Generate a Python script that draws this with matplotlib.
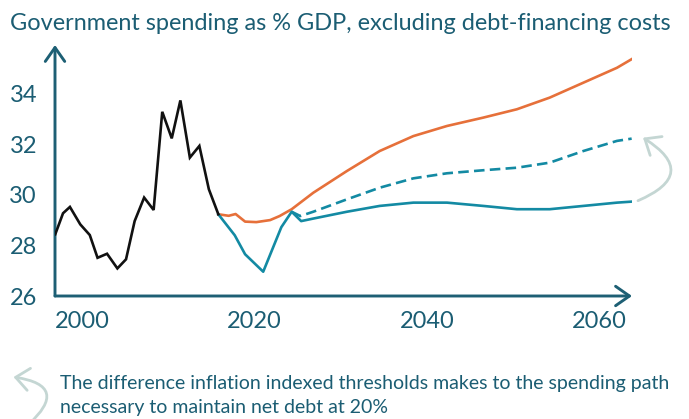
import matplotlib
matplotlib.use("Agg")
import matplotlib.pyplot as plt
from matplotlib.patches import FancyArrowPatch

# Historical spending, % of GDP
hist_years = [1996.9, 1997.8, 1998.6, 1999.8, 2000.9, 2001.8, 2002.9, 2004.1, 2005.1,
              2006.1, 2007.2, 2008.3, 2009.3, 2010.4, 2011.4, 2012.5, 2013.6, 2014.7, 2015.8]
hist_vals = [28.44, 29.27, 29.52, 28.83, 28.41, 27.51, 27.67, 27.09, 27.45,
             28.96, 29.89, 29.40, 33.28, 32.23, 33.73, 31.47, 31.93, 30.22, 29.23]

# Spending path with fixed thresholds
orange_years = [2015.8, 2017.0, 2017.8, 2018.9, 2020.2, 2021.8, 2022.9, 2024.3, 2026.8,
                2030.7, 2034.5, 2038.4, 2042.3, 2046.5, 2050.4, 2054.2, 2058.1, 2062.0, 2063.7]
orange_vals = [29.23, 29.17, 29.24, 28.94, 28.92, 29.00, 29.16, 29.43, 30.08,
               30.94, 31.73, 32.32, 32.72, 33.05, 33.38, 33.84, 34.43, 35.02, 35.36]

# Spending path with inflation indexed thresholds
teal_years = [2015.8, 2017.7, 2018.9, 2021.0, 2023.1, 2024.3, 2025.4, 2026.8, 2030.7,
              2034.5, 2038.4, 2042.3, 2046.5, 2050.4, 2054.2, 2058.1, 2062.0, 2063.7]
teal_vals = [29.23, 28.40, 27.65, 26.96, 28.72, 29.33, 28.96, 29.06, 29.33,
             29.56, 29.69, 29.69, 29.56, 29.43, 29.43, 29.56, 29.69, 29.73]

# Alternative path (dashed)
dash_years = [2024.3, 2025.3, 2026.8, 2030.7, 2034.5, 2038.4, 2042.3, 2046.5, 2050.4,
              2054.2, 2058.1, 2062.0, 2063.7]
dash_vals = [29.33, 29.16, 29.33, 29.82, 30.28, 30.65, 30.85, 30.97, 31.07,
             31.27, 31.73, 32.13, 32.22]

y_ticks = [26, 28, 30, 32, 34]
x_ticks = [2000, 2020, 2040, 2060]

TEXT = "#1b5d73"
AXIS = "#1d5f74"
TEAL = "#138aa3"
ORANGE = "#e6703a"
BLACK = "#111111"
PALE = "#c4d6d3"

W, H = 689, 419
fig = plt.figure(figsize=(W / 100, H / 100), dpi=100)
ax = fig.add_axes([55 / W, 123 / H, (632 - 55) / W, (296 - 45) / H])

lw = 1.9
ax.plot(hist_years, hist_vals, color=BLACK, lw=lw, solid_joinstyle="miter", zorder=4)
ax.plot(orange_years, orange_vals, color=ORANGE, lw=lw, zorder=3)
ax.plot(teal_years, teal_vals, color=TEAL, lw=lw, zorder=3)
ax.plot(dash_years, dash_vals, color=TEAL, lw=lw, dashes=(4, 2), zorder=3)

ax.set_xlim(1996.87, 2063.74)
ax.set_ylim(26, 35.92)
ax.set_xticks(x_ticks)
ax.set_yticks(y_ticks)
ax.tick_params(length=0, labelcolor=TEXT, labelsize=17)
ax.tick_params(axis="y", pad=13)
ax.tick_params(axis="x", pad=11)
for lab in ax.get_xticklabels() + ax.get_yticklabels():
    lab.set_family("Lato")
for s in ax.spines.values():
    s.set_visible(False)

# Axis lines with arrow heads
arrow_kw = dict(arrowstyle="->,head_length=0.5,head_width=0.35", color=AXIS, lw=2.1,
                shrinkA=0, shrinkB=0, mutation_scale=20)
ax.annotate("", xy=(0, 1), xytext=(0, 0), xycoords="axes fraction",
            arrowprops=arrow_kw, annotation_clip=False)
ax.annotate("", xy=(1, 0), xytext=(0, 0), xycoords="axes fraction",
            arrowprops=arrow_kw, annotation_clip=False)

# Curved arrow linking the two teal paths
def fpt(x, y):
    return (x / W, 1 - y / H)

fig.patches.append(FancyArrowPatch(fpt(638, 200.7), fpt(643, 137.7),
                                   transform=fig.transFigure,
                                   connectionstyle="arc3,rad=0.95",
                                   arrowstyle="->,head_length=0.6,head_width=0.5",
                                   mutation_scale=16, color=PALE, lw=2.0,
                                   shrinkA=0, shrinkB=0))
# Matching arrow beside the note
fig.patches.append(FancyArrowPatch(fpt(28, 425), fpt(13.5, 377),
                                   transform=fig.transFigure,
                                   connectionstyle="arc3,rad=1.05",
                                   arrowstyle="->,head_length=0.6,head_width=0.5",
                                   mutation_scale=16, color=PALE, lw=2.0,
                                   shrinkA=0, shrinkB=0))

fig.text(10 / W, 1 - 23 / H, "Government spending as % GDP, excluding debt-financing costs",
         color=TEXT, fontsize=16.9, family="Lato", va="center", ha="left")
fig.text(60 / W, 1 - 383 / H, "The difference inflation indexed thresholds makes to the spending path",
         color=TEXT, fontsize=14, family="Lato", va="center", ha="left")
fig.text(60 / W, 1 - 407 / H, "necessary to maintain net debt at 20%",
         color=TEXT, fontsize=14, family="Lato", va="center", ha="left")

fig.savefig("out.png", dpi=100)
